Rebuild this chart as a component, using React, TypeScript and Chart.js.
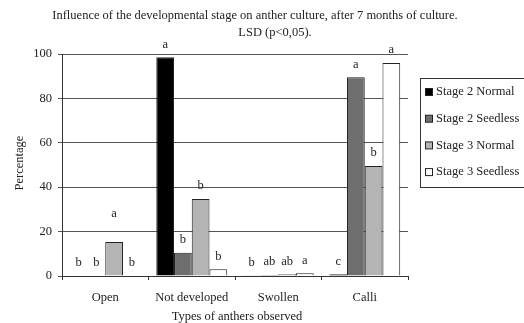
import { useEffect, useRef } from 'react';
import { Chart, registerables } from 'chart.js';
Chart.register(...registerables);

const categories = ['Open', 'Not developed', 'Swollen', 'Calli'];
const seriesNames = ['Stage 2 Normal', 'Stage 2 Seedless', 'Stage 3 Normal', 'Stage 3 Seedless'];
const stage2Normal = [0, 98.5, 0.3, 0.8];
const stage2Seedless = [0, 10.5, 0.5, 89.5];
const stage3Normal = [15.3, 34.7, 0.8, 49.5];
const stage3Seedless = [0, 3, 1.2, 96];
const letters2Normal = ['b', 'a', 'b', 'c'];
const letters2Seedless = ['b', 'b', 'ab', 'a'];
const letters3Normal = ['a', 'b', 'ab', 'b'];
const letters3Seedless = ['b', 'b', 'a', 'a'];
const errors2Normal = [0, 0, 0, 0];
const errors2Seedless = [0, 0, 0, 0];
const errors3Normal = [7, 0, 0, 0];
const errors3Seedless = [0, 0, 0, 0];
const titleLine1 = 'Influence of the developmental stage on anther culture, after 7 months of culture.';
const titleLine2 = 'LSD (p<0,05).';
const yTitle = 'Percentage';
const xTitle = 'Types of anthers observed';

const FONT = "'Liberation Serif', 'Times New Roman', serif";
const FS = 12.5;
const TEXT = '#222';
const fills = ['#000000', '#6e6e6e', '#b4b4b4', '#ffffff'];

export default function App() {
  const ref = useRef<HTMLCanvasElement>(null);
  useEffect(() => {
    const values = [stage2Normal, stage2Seedless, stage3Normal, stage3Seedless];
    const letters = [letters2Normal, letters2Seedless, letters3Normal, letters3Seedless];
    const errors = [errors2Normal, errors2Seedless, errors3Normal, errors3Seedless];

    const decor = {
      id: 'decor',
      afterDatasetsDraw(chart: any) {
        const ctx = chart.ctx;
        const ys = chart.scales.y;
        ctx.save();
        ctx.fillStyle = TEXT;
        ctx.font = `${FS}px ${FONT}`;
        ctx.textAlign = 'center';
        ctx.textBaseline = 'middle';
        values.forEach((vals, i) => {
          const meta = chart.getDatasetMeta(i);
          vals.forEach((v, j) => {
            const el = meta.data[j];
            const y = ys.getPixelForValue(v + errors[i][j]) - 13;
            ctx.fillText(letters[i][j], el.x, y);
          });
        });
        // titles
        ctx.fillText(titleLine1, 255, 16);
        ctx.fillText(titleLine2, 275, 33);
        ctx.fillText(xTitle, 237, 317);
        ctx.save();
        ctx.translate(20, 163);
        ctx.rotate(-Math.PI / 2);
        ctx.fillText(yTitle, 0, 0);
        ctx.restore();
        // legend
        ctx.strokeStyle = '#333';
        ctx.lineWidth = 1;
        ctx.strokeRect(420.5, 78.5, 110, 109);
        ctx.textAlign = 'left';
        seriesNames.forEach((name, i) => {
          const cy = 92 + i * 26.7;
          ctx.fillStyle = fills[i];
          ctx.fillRect(425, cy - 3.5, 7, 7);
          ctx.strokeStyle = '#222';
          ctx.strokeRect(425.5, cy - 3.5, 7, 7);
          ctx.fillStyle = TEXT;
          ctx.fillText(name, 436, cy);
        });
        ctx.restore();
      },
    };

    const chart = new Chart(ref.current!, {
      type: 'bar',
      data: {
        labels: categories,
        datasets: values.map((vals, i) => ({
          label: seriesNames[i],
          data: vals,
          backgroundColor: fills[i],
          borderColor: '#222',
          borderWidth: 1,
          categoryPercentage: 0.82,
          barPercentage: 1,
        })),
      },
      options: {
        responsive: true,
        maintainAspectRatio: false,
        animation: false,
        layout: { padding: { left: 0, top: 54, right: 116, bottom: 0 } },
        plugins: { legend: { display: false }, title: { display: false }, tooltip: { enabled: false } },
        scales: {
          x: {
            afterFit: (s: any) => { s.height = 47; },
            grid: { offset: true, drawOnChartArea: false, tickLength: 4, color: '#333' },
            border: { display: true, color: '#333' },
            ticks: { color: TEXT, font: { family: FONT, size: FS }, padding: 10 },
          },
          y: {
            min: 0,
            max: 100,
            afterFit: (s: any) => { s.width = 62; },
            grid: { color: '#555', tickLength: 4 },
            border: { display: true, color: '#333' },
            ticks: { stepSize: 20, color: TEXT, font: { family: FONT, size: FS }, padding: 6 },
          },
        },
      },
      plugins: [decor],
    });
    return () => chart.destroy();
  }, []);
  return (
    <div style={{ position: 'fixed', left: 0, top: 0, width: 524, height: 323, background: '#fff' }}>
      <canvas ref={ref} />
    </div>
  );
}
